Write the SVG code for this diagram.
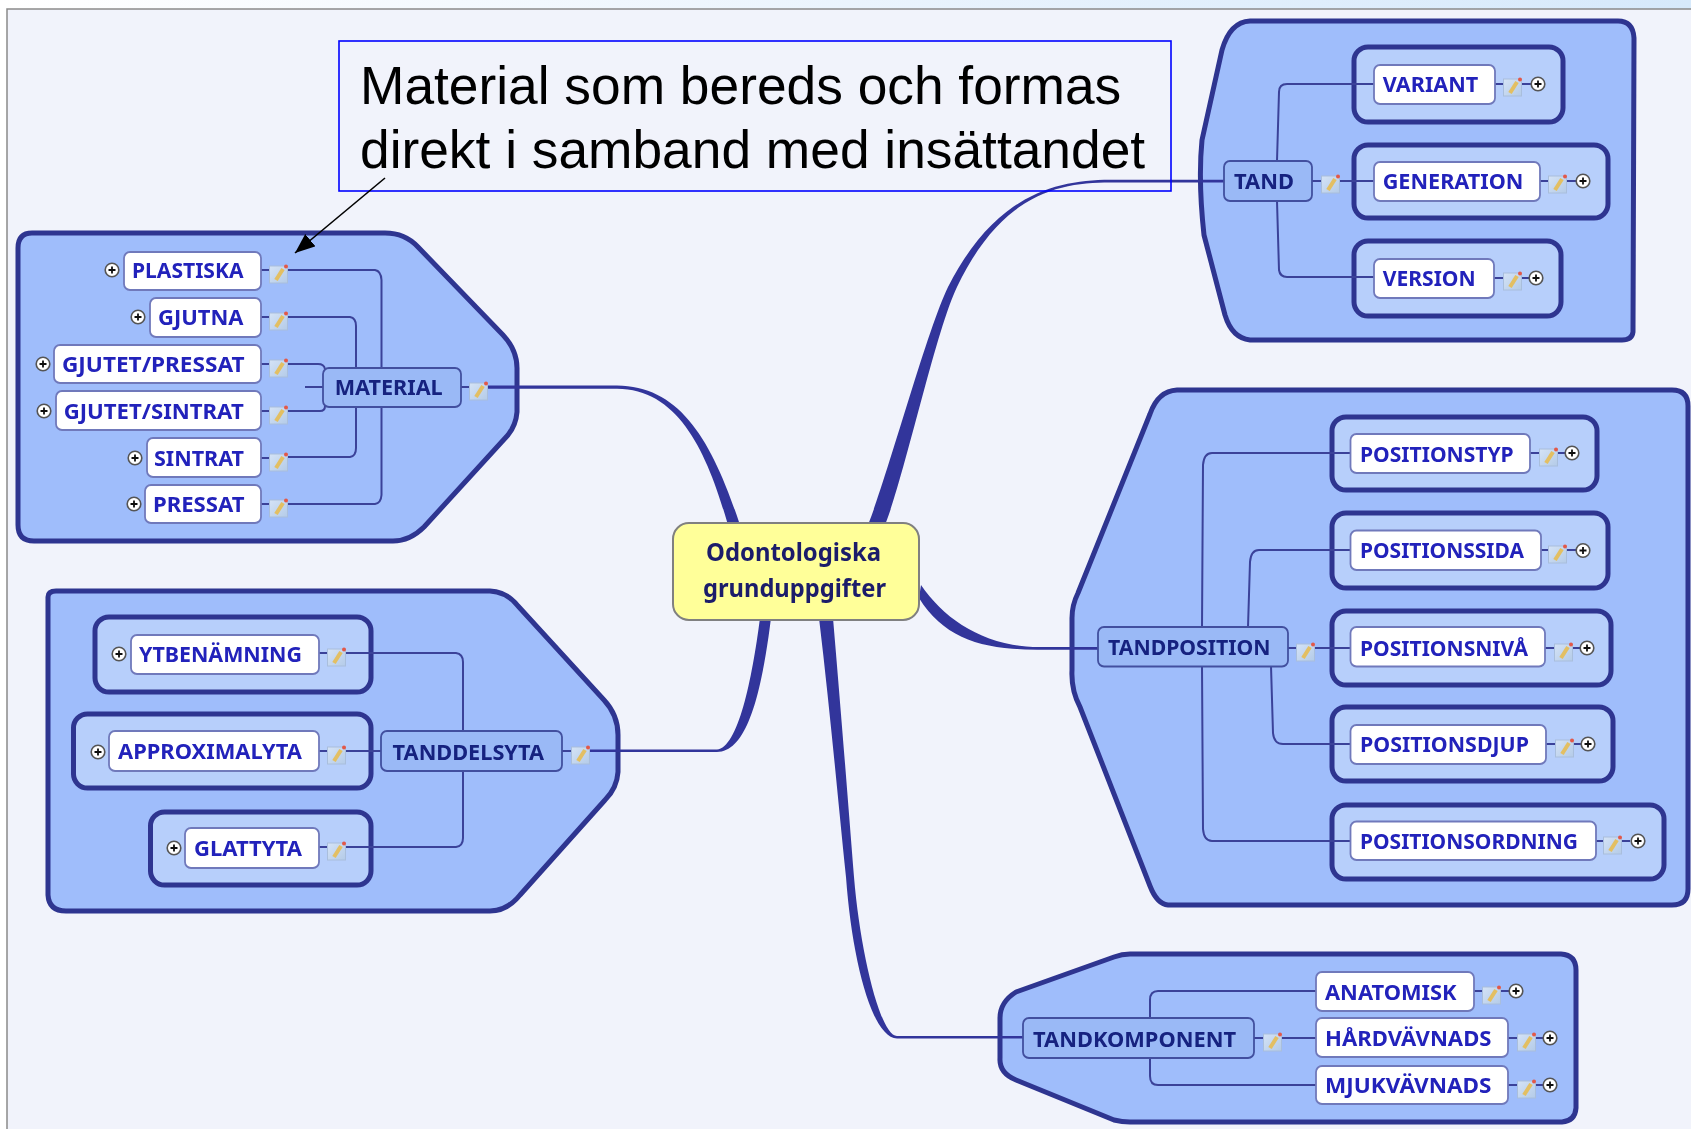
<svg xmlns="http://www.w3.org/2000/svg" width="1691" height="1129" viewBox="0 0 1691 1129">
<style>
.frame{fill:#9fbdfb;stroke:#2f3490;stroke-width:5;stroke-linejoin:round}
.inner{fill:#b7cffb;stroke:#2f3490;stroke-width:5}
.child{fill:#fff;stroke:#7079bb;stroke-width:1.8}
.parent{fill:#9ab9f6;stroke:#42509f;stroke-width:1.8}
.t{font-family:"Noto Sans","Liberation Sans",sans-serif;font-weight:700;font-size:21px;fill:#2222bb}
.pt{font-family:"Noto Sans","Liberation Sans",sans-serif;font-weight:700;font-size:21px;fill:#15207f}
.root-t{font-family:"Noto Sans","Liberation Sans",sans-serif;font-weight:700;font-size:25px;fill:#1a1d6b}
.c{fill:none;stroke:#3a4299;stroke-width:2}
.m{fill:#33359b;stroke:none}
.note{font-family:"Liberation Sans",Arial,sans-serif;font-size:53.3px;fill:#000}
</style>
<defs>
<filter id="soft" filterUnits="userSpaceOnUse" x="0" y="0" width="1691" height="1129"><feGaussianBlur stdDeviation="0.7"/></filter>
<linearGradient id="strip" x1="0" y1="0" x2="1" y2="0"><stop offset="0" stop-color="#ffffff"/><stop offset="1" stop-color="#d6e9fb"/></linearGradient>
<linearGradient id="ic" x1="0" y1="0" x2="1" y2="1"><stop offset="0" stop-color="#d5e3f6"/><stop offset="1" stop-color="#b4cbe8"/></linearGradient>
<symbol id="icon" width="20" height="19" viewBox="0 0 20 19" overflow="visible">
<rect x="0.5" y="1" width="18" height="17" fill="url(#ic)" stroke="#a9bedc" stroke-width="1"/>
<path d="M7 15 L14 4" stroke="#e3bf62" stroke-width="4" fill="none"/>
<circle cx="17" cy="1.5" r="2" fill="#e2584a"/>
</symbol>
<symbol id="exp" width="16" height="16" viewBox="-8 -8 16 16" overflow="visible">
<circle r="6.8" fill="#fff" stroke="#555" stroke-width="1.6"/>
<path d="M-3.5 0H3.5M0 -3.5V3.5" stroke="#111" stroke-width="1.8"/>
</symbol>
<marker id="arrow" markerUnits="userSpaceOnUse" markerWidth="22" markerHeight="20" refX="20" refY="8" orient="auto">
<path d="M0 0 L20 8 L0 16 Z" fill="#000"/>
</marker>
</defs>

<rect width="1691" height="1129" fill="#fff"/>
<rect width="1691" height="9" fill="url(#strip)"/>
<rect x="7" y="9" width="1684" height="1120" fill="#f1f3fb"/>
<path d="M7 1129V9H1691" fill="none" stroke="#8a8a8a" stroke-width="1.5"/>

<g id="mindmap" filter="url(#soft)">
<g id="frames">
<path class="frame" d="M32 233H385Q405 233 418 247L503 335Q517 350 517 368V412Q516 425 508 435L424 527Q410 541 393 541H34Q18 541 18 525V248Q18 233 32 233Z"/>
<path class="frame" d="M48 597Q48 591 56 591H490Q507 592 518 606L604 700Q618 715 618 735V772Q617 788 605 800L520 895Q507 911 490 911H66Q49 911 48 895Z"/>
<path class="frame" d="M1250 21H1618Q1633 21 1634 38L1633 332Q1632 340 1622 340H1250Q1232 338 1225 315L1204 235Q1198 180 1202 140L1222 50Q1230 22 1250 21Z"/>
<path class="frame" d="M1177 390H1672Q1688 390 1688 406V889Q1688 905 1672 905H1168Q1157 904 1150 886L1080 707Q1071 690 1072 670V618Q1072 605 1078 593L1150 414Q1158 391 1177 390Z"/>
<path class="frame" d="M1130 954H1561Q1576 955 1576 970V1108Q1575 1121 1562 1122H1130Q1122 1122 1114 1120L1016 1080Q999 1073 1000 1058V1018Q1000 1002 1016 992L1114 957Q1122 954 1130 954Z"/>
<rect class="inner" x="95" y="617" width="276" height="75" rx="14"/>
<rect class="inner" x="73.500" y="714" width="297.500" height="74" rx="14"/>
<rect class="inner" x="150.500" y="812" width="220.500" height="73" rx="14"/>
<rect class="inner" x="1354" y="47" width="209" height="75" rx="14"/>
<rect class="inner" x="1354" y="145" width="254" height="73" rx="14"/>
<rect class="inner" x="1354" y="241" width="207" height="75" rx="14"/>
<rect class="inner" x="1332" y="417" width="265" height="73" rx="14"/>
<rect class="inner" x="1332" y="513" width="276" height="75" rx="14"/>
<rect class="inner" x="1332" y="611" width="279" height="74" rx="14"/>
<rect class="inner" x="1332" y="707" width="281" height="74" rx="14"/>
<rect class="inner" x="1332" y="805" width="332" height="74" rx="14"/>
</g>

<g id="connectors">
<path class="m" d="M487 385.500H617C680 386 712 440 740 525H728C708 455 680 389 617 388.700H487Z"/>
<path class="m" d="M1224 179.700H1110C1055 180 995 195 948 287C926 333 888 475 868 525H885C905 475 935 333 957 287C1002 193 1060 182.600 1110 182.600H1224Z"/>
<path class="m" d="M921 585C945 620 985 647 1040 647H1098V649.700H1040C985 650 945 640 919 598Z"/>
<path class="m" d="M771 618C762 690 748 752 717 752H589V749.500H717C738 748 752 680 760 618Z"/>
<path class="m" d="M819 618C830 710 838 800 846 877C852 960 872 1038 897 1038.500H1023V1036H897C880 1036 860 950 854 877C848 800 840 700 833 618Z"/>
<path class="c" d="M288 270H375Q381 271 381.500 280V368M381.500 407V495Q381 503 375 504H288"/>
<path class="c" d="M288 317H350Q356 318 356 326V368M356 407V448Q356 456 350 457H288"/>
<path class="c" d="M288 364H318Q324 364 325 369M288 411H320Q325 411 325 406M305 387H323"/>
<path class="c" d="M261 270H269M261 317H269M261 364H269M261 411H269M261 458H269M261 504H269M461 387H469"/>
<path class="c" d="M346 653H456Q463 654 463 662V731M463 771V838Q463 846 456 847H346M346 751H381M319 653H327M319 751H327M319 847H327M562 751H571"/>
<path class="c" d="M1277 161L1279 92Q1279 84 1287 84H1374M1277 201L1279 270Q1280 277 1287 277H1374M1338 181H1374M1312 181H1321M1495 84H1503M1540 181H1548M1494 278H1503M1521 84H1531M1566 181H1576M1521 278H1529"/>
<path class="c" d="M1202 627L1203 465Q1204 453 1212 453H1350M1202 666L1203 829Q1204 841 1212 841H1350M1248 627L1250 562Q1251 550 1259 550H1350M1271 666L1273 733Q1274 744 1283 744H1350M1315 648H1350M1288 648H1296"/>
<path class="c" d="M1530 453H1539M1558 453H1565M1541 550H1548M1567 550H1576M1545 648H1554M1573 648H1580M1546 744H1555M1574 744H1581M1596 841H1603M1622 841H1630"/>
<path class="c" d="M1150 1018V1000Q1150 991 1158 991H1316M1150 1058V1076Q1150 1085 1158 1085H1316M1281 1038H1316M1254 1038H1263M1474 991H1482M1501 991H1509M1508 1038H1517M1535 1038H1543M1508 1085H1517M1535 1085H1543"/>
</g>

<g id="node-root">
<rect x="673" y="523" width="246" height="97" rx="16" fill="#ffff99" stroke="#808080" stroke-width="2"/>
<text class="root-t" x="706" y="561" textLength="175" lengthAdjust="spacingAndGlyphs">Odontologiska</text>
<text class="root-t" x="703" y="597" textLength="183" lengthAdjust="spacingAndGlyphs">grunduppgifter</text>
</g>

<g id="node-material"><rect class="parent" x="323" y="368" width="138" height="39" rx="6"/><text class="pt" x="334.700" y="395" textLength="108" lengthAdjust="spacingAndGlyphs">MATERIAL</text><use href="#icon" x="469" y="382"/></g>
<g id="node-plastiska"><rect class="child" x="124" y="252" width="137" height="38" rx="6"/><text class="t" x="132" y="278" textLength="111.500" lengthAdjust="spacingAndGlyphs">PLASTISKA</text><use href="#icon" x="269" y="265"/><use href="#exp" x="104" y="262"/></g>
<g id="node-gjutna"><rect class="child" x="150" y="298" width="111" height="39" rx="6"/><text class="t" x="158" y="325" textLength="85.500" lengthAdjust="spacingAndGlyphs">GJUTNA</text><use href="#icon" x="269" y="312"/><use href="#exp" x="130" y="309"/></g>
<g id="node-gjutet-pressat"><rect class="child" x="54" y="345" width="207" height="38" rx="6"/><text class="t" x="62" y="372" textLength="182.500" lengthAdjust="spacingAndGlyphs">GJUTET/PRESSAT</text><use href="#icon" x="269" y="359"/><use href="#exp" x="35" y="356"/></g>
<g id="node-gjutet-sintrat"><rect class="child" x="56" y="391" width="205" height="39" rx="6"/><text class="t" x="63.700" y="419" textLength="180" lengthAdjust="spacingAndGlyphs">GJUTET/SINTRAT</text><use href="#icon" x="269" y="406"/><use href="#exp" x="36" y="403"/></g>
<g id="node-sintrat"><rect class="child" x="147" y="438" width="114" height="39" rx="6"/><text class="t" x="154" y="466" textLength="90" lengthAdjust="spacingAndGlyphs">SINTRAT</text><use href="#icon" x="269" y="453"/><use href="#exp" x="127" y="450"/></g>
<g id="node-pressat"><rect class="child" x="145" y="485" width="116" height="38" rx="6"/><text class="t" x="153" y="512" textLength="91.500" lengthAdjust="spacingAndGlyphs">PRESSAT</text><use href="#icon" x="269" y="499"/><use href="#exp" x="126" y="496"/></g>

<g id="node-tanddelsyta"><rect class="parent" x="381" y="731" width="181" height="40" rx="6"/><text class="pt" x="392.600" y="760" textLength="151.400" lengthAdjust="spacingAndGlyphs">TANDDELSYTA</text><use href="#icon" x="571" y="746"/></g>
<g id="node-ytbenamning"><rect class="child" x="131" y="635" width="188" height="39" rx="6"/><text class="t" x="139" y="662" textLength="163" lengthAdjust="spacingAndGlyphs">YTBENÄMNING</text><use href="#icon" x="327" y="648"/><use href="#exp" x="111" y="646"/></g>
<g id="node-approximalyta"><rect class="child" x="109" y="731" width="210" height="40" rx="6"/><text class="t" x="118" y="759" textLength="184" lengthAdjust="spacingAndGlyphs">APPROXIMALYTA</text><use href="#icon" x="327" y="746"/><use href="#exp" x="90" y="744"/></g>
<g id="node-glattyta"><rect class="child" x="185" y="828" width="134" height="40" rx="6"/><text class="t" x="194" y="856" textLength="108" lengthAdjust="spacingAndGlyphs">GLATTYTA</text><use href="#icon" x="327" y="842"/><use href="#exp" x="166" y="840"/></g>

<g id="node-tand"><rect class="parent" x="1224" y="161" width="88" height="40" rx="6"/><text class="pt" x="1234" y="189" textLength="60" lengthAdjust="spacingAndGlyphs">TAND</text><use href="#icon" x="1321" y="175"/></g>
<g id="node-variant"><rect class="child" x="1374" y="65" width="121" height="39" rx="6"/><text class="t" x="1382.700" y="92" textLength="95.600" lengthAdjust="spacingAndGlyphs">VARIANT</text><use href="#icon" x="1503" y="78"/><use href="#exp" x="1530" y="76"/></g>
<g id="node-generation"><rect class="child" x="1374" y="162" width="166" height="39" rx="6"/><text class="t" x="1382.700" y="189" textLength="140.700" lengthAdjust="spacingAndGlyphs">GENERATION</text><use href="#icon" x="1548" y="175"/><use href="#exp" x="1575" y="173"/></g>
<g id="node-version"><rect class="child" x="1374" y="259" width="120" height="39" rx="6"/><text class="t" x="1382.700" y="286" textLength="93" lengthAdjust="spacingAndGlyphs">VERSION</text><use href="#icon" x="1503" y="272"/><use href="#exp" x="1528" y="270"/></g>

<g id="node-tandposition"><rect class="parent" x="1098" y="627" width="190" height="39.500" rx="6"/><text class="pt" x="1108" y="655" textLength="162.500" lengthAdjust="spacingAndGlyphs">TANDPOSITION</text><use href="#icon" x="1296" y="643"/></g>
<g id="node-positionstyp"><rect class="child" x="1350.500" y="434" width="179.500" height="39" rx="6"/><text class="t" x="1360" y="461.600" textLength="153.700" lengthAdjust="spacingAndGlyphs">POSITIONSTYP</text><use href="#icon" x="1539" y="448"/><use href="#exp" x="1564" y="445"/></g>
<g id="node-positionssida"><rect class="child" x="1350.500" y="530.500" width="190.500" height="39.500" rx="6"/><text class="t" x="1360" y="558" textLength="164" lengthAdjust="spacingAndGlyphs">POSITIONSSIDA</text><use href="#icon" x="1548" y="545"/><use href="#exp" x="1575" y="542.500"/></g>
<g id="node-positionsniva"><rect class="child" x="1350.500" y="627" width="194.500" height="39.500" rx="6"/><text class="t" x="1360" y="655.500" textLength="168" lengthAdjust="spacingAndGlyphs">POSITIONSNIVÅ</text><use href="#icon" x="1554" y="643"/><use href="#exp" x="1579" y="640"/></g>
<g id="node-positionsdjup"><rect class="child" x="1350.500" y="725" width="195.500" height="39" rx="6"/><text class="t" x="1360" y="752" textLength="169" lengthAdjust="spacingAndGlyphs">POSITIONSDJUP</text><use href="#icon" x="1555" y="739"/><use href="#exp" x="1580" y="736"/></g>
<g id="node-positionsordning"><rect class="child" x="1350.500" y="821.500" width="245.500" height="38.500" rx="6"/><text class="t" x="1360" y="849" textLength="218" lengthAdjust="spacingAndGlyphs">POSITIONSORDNING</text><use href="#icon" x="1603" y="836"/><use href="#exp" x="1630" y="833"/></g>

<g id="node-tandkomponent"><rect class="parent" x="1023" y="1018" width="231" height="40" rx="6"/><text class="pt" x="1033" y="1047" textLength="203" lengthAdjust="spacingAndGlyphs">TANDKOMPONENT</text><use href="#icon" x="1263" y="1033"/></g>
<g id="node-anatomisk"><rect class="child" x="1316" y="972" width="158" height="39" rx="6"/><text class="t" x="1325" y="1000" textLength="131.600" lengthAdjust="spacingAndGlyphs">ANATOMISK</text><use href="#icon" x="1482" y="986"/><use href="#exp" x="1508" y="983"/></g>
<g id="node-hardvavnads"><rect class="child" x="1316" y="1018" width="192" height="39" rx="6"/><text class="t" x="1325" y="1046" textLength="166.500" lengthAdjust="spacingAndGlyphs">HÅRDVÄVNADS</text><use href="#icon" x="1517" y="1033"/><use href="#exp" x="1542" y="1030"/></g>
<g id="node-mjukvavnads"><rect class="child" x="1316" y="1066" width="192" height="38" rx="6"/><text class="t" x="1325" y="1093" textLength="166.500" lengthAdjust="spacingAndGlyphs">MJUKVÄVNADS</text><use href="#icon" x="1517" y="1080"/><use href="#exp" x="1542" y="1077"/></g>
</g>

<g id="note">
<rect x="339" y="41" width="832" height="150" fill="none" stroke="#0000ff" stroke-width="1.6"/>
<text class="note" x="360" y="104">Material som bereds och formas</text>
<text class="note" x="360" y="168">direkt i samband med insättandet</text>
<path d="M385 178L295 253" fill="none" stroke="#000" stroke-width="1.6" marker-end="url(#arrow)"/>
</g>
</svg>
